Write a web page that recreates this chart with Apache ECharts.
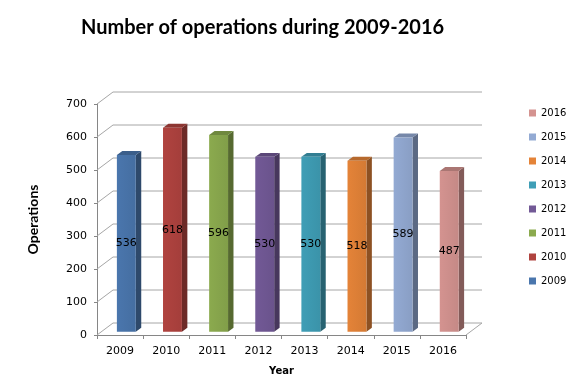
<!DOCTYPE html>
<html><head><meta charset="utf-8">
<script src="https://cdn.jsdelivr.net/npm/echarts@6/dist/echarts.min.js"></script>
<style>html,body{margin:0;padding:0;background:#fff}#c{width:576px;height:384px}</style>
</head><body><div id="c"></div>
<script>
const years = ['2009','2010','2011','2012','2013','2014','2015','2016'];
const operations = [536, 618, 596, 530, 530, 518, 589, 487];
const colors = ['#4A76AD','#B0433F','#8BAA4E','#725996','#3F9EB6','#E48338','#93AAD3','#D49390'];
const yTicks = [0,100,200,300,400,500,600,700];
const legendOrder = years.slice().reverse();

const DX = 16, DY = -12; // depth vector of the 3D box

function shade(hex, f){
  const n = parseInt(hex.slice(1),16);
  let r=(n>>16)&255,g=(n>>8)&255,b=n&255;
  r=Math.round(r*f);g=Math.round(g*f);b=Math.round(b*f);
  return 'rgb('+r+','+g+','+b+')';
}

const frameSeries = {
  type:'custom', name:'frame', silent:true, z:1,
  data: yTicks.map(v=>[0,v]),
  encode:{x:0,y:1},
  renderItem:function(params, api){
    const cs = params.coordSys;
    const v = api.value(1);
    const y = api.coord([0, v])[1];
    const x0 = cs.x, x1 = cs.x + cs.width;
    const children = [
      {type:'line', shape:{x1:x0, y1:y, x2:x0+DX, y2:y+DY}, style:{stroke:'#a6a6a6', lineWidth:1}},
      {type:'line', shape:{x1:x0+DX, y1:y+DY, x2:x1+DX, y2:y+DY}, style:{stroke:'#a6a6a6', lineWidth:1}}
    ];
    if (v === 0) {
      children.push({type:'line', shape:{x1:x1, y1:y, x2:x1+DX, y2:y+DY}, style:{stroke:'#a6a6a6', lineWidth:1}});
    }
    return {type:'group', children:children};
  }
};

const barSeries = years.map((yr, i) => ({
  type:'custom', name: yr, z:3,
  itemStyle:{color: colors[i]},
  data: [[i, operations[i]]],
  encode:{x:0,y:1},
  renderItem:function(params, api){
    const idx = api.value(0), val = api.value(1);
    const top = api.coord([idx, val]);
    const base = api.coord([idx, 0]);
    const band = api.size([1,0])[0];
    const w = band*0.41;
    const ox = DX*0.33, oy = DY*0.27;   // front face position inside depth
    const dx = DX*0.34, dy = DY*0.33;   // bar depth
    const xl = top[0] - w/2 + ox + 1, xr = xl + w;
    const yt = top[1] + oy, yb = base[1] + oy;
    const c = colors[idx];
    return {type:'group', children:[
      {type:'polygon', shape:{points:[[xr,yt],[xr+dx,yt+dy],[xr+dx,yb+dy],[xr,yb]]}, style:{fill:shade(c,0.62)}},
      {type:'polygon', shape:{points:[[xl,yt],[xl+dx,yt+dy],[xr+dx,yt+dy],[xr,yt]]}, style:{fill:shade(c,0.8)}},
      {type:'rect', shape:{x:xl, y:yt, width:w, height:yb-yt},
        style:{fill:{type:'linear',x:0,y:0,x2:1,y2:0,colorStops:[{offset:0,color:shade(c,1.0)},{offset:1,color:shade(c,0.93)}]}}},
      {type:'text', style:{text:String(val), x:(xl+xr)/2, y:(yt+yb)/2, align:'center', verticalAlign:'middle',
        fill:'#000', font:'11px "DejaVu Sans"'}}
    ]};
  }
}));

const chart = echarts.init(document.getElementById('c'));
chart.setOption({
  animation:false,
  backgroundColor:'#fff',
  title:{text:'Number of operations during 2009-2016', left:76, top:13,
    textStyle:{fontFamily:'Lato', fontWeight:'bold', fontSize:20, color:'#000'}},
  legend:{
    data: legendOrder.map(n=>({name:n, icon:'rect'})),
    orient:'vertical', left:524, top:102, itemWidth:7, itemHeight:7, itemGap:12,
    textStyle:{fontFamily:'DejaVu Sans', fontSize:10, color:'#000', lineHeight:12}
  },
  grid:{left:97, right:110, top:104, bottom:49},
  xAxis:{type:'category', data:years, name:'Year', nameLocation:'middle', nameGap:31,
    nameTextStyle:{fontFamily:'DejaVu Sans', fontWeight:'bold', fontSize:10, color:'#000'},
    axisLine:{lineStyle:{color:'#868686'}}, axisTick:{show:true, length:4, lineStyle:{color:'#868686'}},
    axisLabel:{fontFamily:'DejaVu Sans', fontSize:11, color:'#000', margin:11}},
  yAxis:{type:'value', min:0, max:700, interval:100, name:'Operations', nameLocation:'middle', nameGap:57, nameRotate:90,
    nameTextStyle:{fontFamily:'Lato', fontWeight:'bold', fontSize:14, color:'#000'},
    axisLine:{show:true, lineStyle:{color:'#868686'}}, axisTick:{show:true, length:3, lineStyle:{color:'#868686'}},
    splitLine:{show:false},
    axisLabel:{fontFamily:'DejaVu Sans', fontSize:11, color:'#000', margin:10}},
  series:[frameSeries].concat(barSeries)
});
</script></body></html>
